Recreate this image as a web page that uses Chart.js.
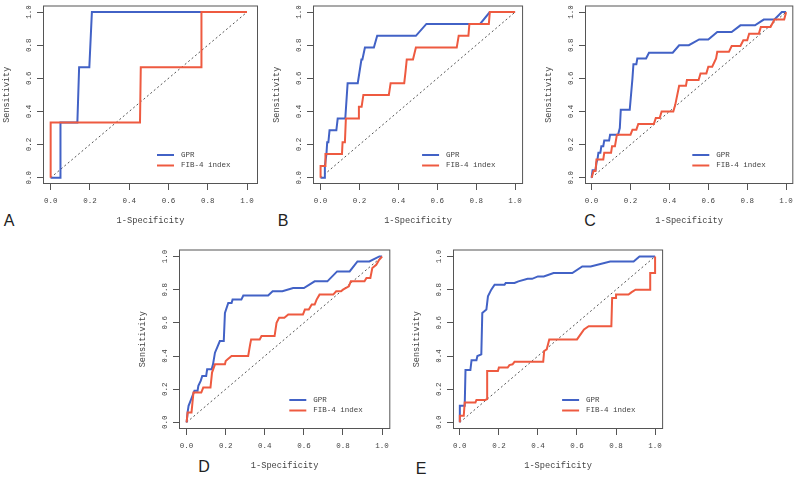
<!DOCTYPE html>
<html>
<head>
<meta charset="utf-8">
<script src="https://cdn.jsdelivr.net/npm/chart.js@4.4.0/dist/chart.umd.min.js"></script>
<style>
body { margin: 0; background: #fff; }
#wrap { position: relative; width: 800px; height: 479px; overflow: hidden; background: #fff; }
#wrap canvas { position: absolute; }
.tag { position: absolute; font-family: 'Liberation Sans', Arial, sans-serif; font-size: 16px; line-height: 1; color: #222; transform: translate(-50%, -50%); }
</style>
</head>
<body>
<div id="wrap">
  <div class="tag" style="left:9px;top:221px">A</div>
  <div class="tag" style="left:283px;top:221px">B</div>
  <div class="tag" style="left:590px;top:221px">C</div>
  <div class="tag" style="left:204px;top:467px">D</div>
  <div class="tag" style="left:421px;top:469px">E</div>
</div>
<script>
    // axis ticks + legend text
    var tickVals = [0, 0.2, 0.4, 0.6, 0.8, 1.0];
    var tickLabels = ['0.0', '0.2', '0.4', '0.6', '0.8', '1.0'];
    var seriesNames = ['GPR', 'FIB-4 index'];
    var diag = [[0, 0], [1, 1]];

    // ROC points [1-specificity, sensitivity]
    //panel A
    var gprA = [[0,0],[0.05,0],[0.05,0.333],[0.136,0.333],[0.145,0.667],[0.197,0.667],[0.21,1],[1,1]];
    var fibA = [[0,0],[0,0.333],[0.455,0.333],[0.459,0.667],[0.768,0.667],[0.768,1],[1,1]];

    //panel B
    var gprB = [[0,0],[0.02,0],[0.022,0.071],[0.03,0.143],[0.034,0.214],[0.04,0.214],[0.046,0.286],[0.081,0.286],
        [0.088,0.357],[0.127,0.357],[0.139,0.571],[0.191,0.571],[0.21,0.714],[0.215,0.714],[0.228,0.786],[0.274,0.786],
        [0.291,0.857],[0.49,0.857],[0.544,0.929],[0.82,0.929],[0.87,1],[1,1]];
    var fibB = [[0,0],[0,0.071],[0.025,0.071],[0.025,0.143],[0.11,0.143],[0.113,0.214],[0.125,0.214],[0.13,0.357],
        [0.194,0.357],[0.197,0.429],[0.211,0.429],[0.22,0.5],[0.351,0.5],[0.36,0.571],[0.43,0.571],[0.437,0.643],
        [0.443,0.714],[0.475,0.714],[0.49,0.786],[0.70,0.786],[0.71,0.857],[0.76,0.857],[0.765,0.929],[0.865,0.929],
        [0.87,1],[1,1]];

    //panel C
    var gprC = [[0,0],[0.005,0.045],[0.02,0.045],[0.025,0.09],[0.03,0.11],[0.035,0.15],[0.045,0.15],[0.05,0.19],
        [0.06,0.19],[0.065,0.225],[0.09,0.225],[0.095,0.26],[0.136,0.26],[0.145,0.30],[0.15,0.41],[0.196,0.41],
        [0.21,0.60],[0.215,0.685],[0.23,0.685],[0.235,0.72],[0.28,0.72],[0.295,0.755],[0.417,0.755],[0.45,0.80],
        [0.50,0.80],[0.553,0.835],[0.60,0.835],[0.646,0.88],[0.72,0.88],[0.765,0.92],[0.84,0.92],[0.885,0.955],
        [0.94,0.955],[0.978,1],[1,1]];
    var fibC = [[0,0],[0.01,0.04],[0.02,0.04],[0.025,0.11],[0.06,0.11],[0.065,0.15],[0.10,0.15],[0.105,0.19],
        [0.12,0.19],[0.13,0.26],[0.20,0.26],[0.21,0.29],[0.23,0.29],[0.24,0.325],[0.32,0.325],[0.33,0.36],
        [0.35,0.36],[0.36,0.40],[0.42,0.40],[0.43,0.44],[0.45,0.555],[0.485,0.555],[0.49,0.59],[0.55,0.59],
        [0.56,0.63],[0.59,0.63],[0.60,0.67],[0.62,0.67],[0.64,0.72],[0.646,0.76],[0.706,0.76],[0.72,0.795],
        [0.765,0.795],[0.78,0.83],[0.80,0.83],[0.81,0.87],[0.86,0.87],[0.87,0.91],[0.92,0.91],[0.94,0.955],
        [0.99,0.955],[1,1]];

    //panel D
    var gprD = [[0,0],[0.005,0.06],[0.01,0.10],[0.02,0.13],[0.03,0.16],[0.04,0.19],[0.056,0.19],[0.06,0.22],
        [0.072,0.25],[0.08,0.28],[0.10,0.28],[0.105,0.32],[0.128,0.32],[0.135,0.35],[0.145,0.42],[0.156,0.45],
        [0.17,0.49],[0.19,0.49],[0.196,0.66],[0.213,0.72],[0.23,0.72],[0.235,0.74],[0.28,0.74],[0.29,0.765],
        [0.417,0.765],[0.44,0.79],[0.49,0.79],[0.545,0.81],[0.60,0.81],[0.655,0.85],[0.72,0.85],[0.77,0.91],
        [0.834,0.91],[0.874,0.97],[0.935,0.97],[0.986,1],[1,1]];
    var fibD = [[0,0],[0.005,0.06],[0.025,0.06],[0.03,0.12],[0.035,0.18],[0.075,0.18],[0.085,0.21],[0.122,0.21],
        [0.13,0.30],[0.145,0.35],[0.196,0.35],[0.20,0.37],[0.21,0.38],[0.23,0.40],[0.315,0.40],[0.325,0.47],
        [0.33,0.50],[0.374,0.50],[0.383,0.52],[0.45,0.52],[0.46,0.60],[0.473,0.63],[0.50,0.63],[0.52,0.65],
        [0.595,0.65],[0.605,0.68],[0.625,0.68],[0.64,0.71],[0.655,0.71],[0.665,0.74],[0.68,0.77],[0.75,0.77],
        [0.765,0.79],[0.79,0.79],[0.80,0.80],[0.83,0.82],[0.84,0.85],[0.91,0.85],[0.92,0.87],[0.94,0.87],
        [0.95,0.93],[0.97,0.95],[0.985,0.98],[1,1]];

    //panel E
    var gprE = [[0,0],[0,0.1],[0.025,0.1],[0.029,0.315],[0.054,0.315],[0.06,0.375],[0.085,0.375],[0.09,0.40],
        [0.11,0.41],[0.115,0.66],[0.136,0.68],[0.144,0.76],[0.161,0.80],[0.178,0.83],[0.229,0.83],[0.235,0.84],
        [0.28,0.84],[0.30,0.85],[0.347,0.865],[0.37,0.865],[0.40,0.88],[0.43,0.88],[0.48,0.90],[0.576,0.90],
        [0.627,0.94],[0.67,0.94],[0.77,0.97],[0.89,0.97],[0.92,1],[1,1]];
    var fibE = [[0,0],[0,0.04],[0.02,0.04],[0.025,0.12],[0.08,0.12],[0.085,0.135],[0.13,0.135],[0.14,0.14],
        [0.14,0.31],[0.195,0.31],[0.20,0.33],[0.245,0.33],[0.254,0.345],[0.27,0.35],[0.28,0.365],[0.427,0.365],
        [0.432,0.43],[0.445,0.44],[0.458,0.50],[0.60,0.50],[0.636,0.56],[0.66,0.58],[0.776,0.58],[0.78,0.75],
        [0.80,0.75],[0.80,0.77],[0.864,0.77],[0.88,0.785],[0.90,0.80],[0.975,0.80],[0.975,0.90],[1,0.90],[1,1]];

    var blue = '#4262c6';
    var red = '#ee5a40';
    var ink = '#444';

    // plot box (page px) + axis extents, R style 4% overhang
    var panels = [
        { box: [43, 4, 258, 184],   xr: [-0.039, 1.056], yr: [-0.038, 1.04], gpr: gprA, fib: fibA },
        { box: [313, 4, 525, 184],  xr: [-0.039, 1.041], yr: [-0.038, 1.04], gpr: gprB, fib: fibB },
        { box: [585, 4, 796, 184],  xr: [-0.034, 1.037], yr: [-0.038, 1.04], gpr: gprC, fib: fibC },
        { box: [179, 248, 392, 429], xr: [-0.039, 1.042], yr: [-0.04, 1.042], gpr: gprD, fib: fibD },
        { box: [453, 248, 665, 429], xr: [-0.035, 1.041], yr: [-0.04, 1.042], gpr: gprE, fib: fibE }
    ];

    function pts(arr) {
        return arr.map(function (p) { return { x: p[0], y: p[1] }; });
    }

    function fixTicks(scale) {
        scale.ticks = tickVals.map(function (v) { return { value: v }; });
    }

    // box around plot + legend bottom right
    var boxLegend = {
        id: 'boxLegend',
        afterDraw: function (chart) {
            var ctx = chart.ctx;
            var a = chart.chartArea;
            ctx.save();
            ctx.strokeStyle = '#555';
            ctx.lineWidth = 1;
            ctx.strokeRect(a.left + 0.5, a.top + 0.5, a.right - a.left - 1, a.bottom - a.top - 1);
            var cols = [blue, red];
            ctx.font = '7.5px "Liberation Mono", monospace';
            ctx.textBaseline = 'middle';
            ctx.textAlign = 'left';
            for (var i = 0; i < seriesNames.length; i++) {
                var y = a.bottom - 29 + i * 10.5;
                ctx.strokeStyle = cols[i];
                ctx.lineWidth = 2;
                ctx.beginPath();
                ctx.moveTo(a.right - 101, y);
                ctx.lineTo(a.right - 84, y);
                ctx.stroke();
                ctx.fillStyle = ink;
                ctx.fillText(seriesNames[i], a.right - 77, y);
            }
            ctx.restore();
        }
    };

    var wrap = document.getElementById('wrap');

    try {
        panels.forEach(function (p) {
            var L = p.box[0], T = p.box[1], R = p.box[2], B = p.box[3];
            var cv = document.createElement('canvas');
            cv.width = (R - L) + 47;
            cv.height = (B - T) + 49;
            cv.style.left = (L - 43) + 'px';
            cv.style.top = (T - 4) + 'px';
            wrap.appendChild(cv);

            var chart = new Chart(cv, {
                type: 'scatter',
                data: {
                    datasets: [{
                        label: seriesNames[1],
                        data: pts(p.fib),
                        showLine: true,
                        borderColor: red,
                        borderWidth: 2,
                        pointRadius: 0,
                        order: 0
                    }, {
                        label: seriesNames[0],
                        data: pts(p.gpr),
                        showLine: true,
                        borderColor: blue,
                        borderWidth: 2,
                        pointRadius: 0,
                        order: 1
                    }, {
                        label: 'ref',
                        data: pts(diag),
                        showLine: true,
                        borderColor: '#555',
                        borderWidth: 1,
                        borderDash: [2, 2.5],
                        pointRadius: 0,
                        order: 2
                    }]
                },
                options: {
                    responsive: false,
                    animation: false,
                    devicePixelRatio: 1,
                    layout: { padding: { top: 4, right: 4, left: 0, bottom: 0 } },
                    plugins: {
                        legend: { display: false },
                        tooltip: { enabled: false }
                    },
                    scales: {
                        x: {
                            type: 'linear',
                            min: p.xr[0],
                            max: p.xr[1],
                            afterBuildTicks: fixTicks,
                            afterFit: function (s) { s.height = 45; },
                            border: { display: false },
                            grid: { drawOnChartArea: false, drawTicks: true, tickLength: 6, color: '#555' },
                            ticks: {
                                autoSkip: false,
                                maxRotation: 0,
                                padding: 7,
                                color: ink,
                                font: { family: 'Liberation Mono', size: 7.5 },
                                callback: function (v, i) { return tickLabels[i]; }
                            },
                            title: {
                                display: true,
                                text: '1-Specificity',
                                color: ink,
                                font: { family: 'Liberation Mono', size: 8.7 },
                                padding: { top: 0, bottom: 2.6 }
                            }
                        },
                        y: {
                            type: 'linear',
                            min: p.yr[0],
                            max: p.yr[1],
                            afterBuildTicks: fixTicks,
                            afterFit: function (s) { s.width = 43; },
                            border: { display: false },
                            grid: { drawOnChartArea: false, drawTicks: true, tickLength: 6, color: '#555' },
                            ticks: {
                                autoSkip: false,
                                minRotation: 90,
                                maxRotation: 90,
                                crossAlign: 'center',
                                padding: 1,
                                color: ink,
                                font: { family: 'Liberation Mono', size: 7.5 },
                                callback: function (v, i) { return tickLabels[i]; }
                            },
                            title: {
                                display: true,
                                text: 'Sensitivity',
                                color: ink,
                                font: { family: 'Liberation Mono', size: 8.5 },
                                padding: { top: 1.6, bottom: 0 }
                            }
                        }
                    }
                },
                plugins: [boxLegend]
            });
        });
    } catch (error) {
        console.log(error);
    }
</script>
</body>
</html>
